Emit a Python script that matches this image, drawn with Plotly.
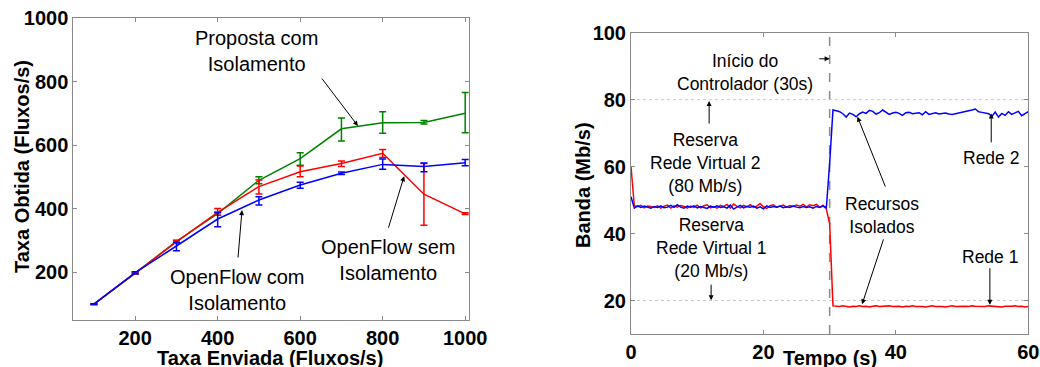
import plotly.graph_objects as go

# ---------------- Left panel data ----------------
taxa_enviada = [100, 200, 300, 400, 500, 600, 700, 800, 900, 1000]

proposta = [100, 197, 298, 385, 490, 558, 652, 671, 672, 701]
proposta_up = [1, 3, 3, 5, 11, 19, 34, 35, 6, 65]
proposta_dn = [1, 3, 3, 5, 11, 21, 38, 33, 5, 61]

of_sem = [100, 198, 296, 389, 470, 517, 543, 575, 446, 384]
of_sem_up = [1, 3, 4, 12, 21, 18, 8, 12, 97, 4]
of_sem_dn = [1, 3, 4, 9, 23, 16, 10, 13, 98, 2]

of_com = [100, 199, 283, 368, 428, 475, 512, 540, 533, 545]
of_com_up = [1, 3, 12, 20, 10, 9, 4, 17, 11, 10]
of_com_dn = [1, 3, 15, 24, 16, 10, 4, 15, 16, 9]

# ---------------- Right panel data ----------------
tempo = [
    0.0, 0.5, 1.0, 1.5, 2.0, 2.5, 3.0, 3.5, 4.0, 4.5,
    5.0, 5.5, 6.0, 6.5, 7.0, 7.5, 8.0, 8.5, 9.0, 9.5,
    10.0, 10.5, 11.0, 11.5, 12.0, 12.5, 13.0, 13.5, 14.0, 14.5,
    15.0, 15.5, 16.0, 16.5, 17.0, 17.5, 18.0, 18.5, 19.0, 19.5,
    20.0, 20.5, 21.0, 21.5, 22.0, 22.5, 23.0, 23.5, 24.0, 24.5,
    25.0, 25.5, 26.0, 26.5, 27.0, 27.5, 28.0, 28.5, 29.0, 29.5,
    30.0, 30.5, 31.0, 31.5, 32.0, 32.5, 33.0, 33.5, 34.0, 34.5,
    35.0, 35.5, 36.0, 36.5, 37.0, 37.5, 38.0, 38.5, 39.0, 39.5,
    40.0, 40.5, 41.0, 41.5, 42.0, 42.5, 43.0, 43.5, 44.0, 44.5,
    45.0, 45.5, 46.0, 46.5, 47.0, 47.5, 48.0, 48.5, 49.0, 49.5,
    50.0, 50.5, 51.0, 51.5, 52.0, 52.5, 53.0, 53.5, 54.0, 54.5,
    55.0, 55.5, 56.0, 56.5, 57.0, 57.5, 58.0, 58.5, 59.0, 59.5,
    60.0,
]

rede2 = [
    51.0, 47.6, 48.3, 47.8, 48.2, 47.9, 47.6, 48.1, 47.8, 48.3,
    47.7, 47.9, 48.4, 47.8, 48.6, 47.9, 47.6, 48.2, 47.9, 48.3,
    47.7, 48.1, 47.8, 47.5, 48.2, 47.9, 48.3, 47.8, 48.0, 47.6,
    48.5, 47.3, 47.9, 48.4, 47.7, 48.1, 47.9, 48.2, 47.6, 48.0,
    47.4, 48.3, 47.8, 48.1, 47.9, 48.2, 47.7, 48.0, 47.8, 48.2,
    47.9, 47.7, 48.1, 47.8, 48.0, 47.6, 48.1, 47.8, 48.2, 47.7,
    61.0, 76.9, 76.7, 76.4, 75.8, 74.8, 76.0, 75.6, 74.9, 75.8,
    76.3, 75.9, 76.8, 76.5, 75.7, 76.1, 76.9, 76.3, 75.6, 76.0,
    76.2, 75.9, 75.3, 76.1, 76.2, 75.8, 76.0, 76.1, 75.5, 76.4,
    75.6, 75.8, 76.1, 75.7, 75.8, 76.0, 75.7, 75.6, 75.8, 76.0,
    76.1, 76.3, 76.5, 76.9, 77.2, 76.4, 76.2, 76.0, 75.8, 75.0,
    76.3, 74.8, 75.9, 75.3, 76.4, 75.6, 76.1, 76.5, 75.2, 75.9,
    76.4,
]

rede1 = [
    60.0, 48.3, 48.0, 48.4, 47.7, 48.2, 48.1, 47.8, 48.3, 47.6,
    48.2, 48.5, 47.6, 48.3, 47.9, 48.4, 48.1, 47.6, 48.2, 47.8,
    48.5, 47.7, 48.3, 48.6, 47.7, 48.0, 47.6, 48.4, 48.1, 48.7,
    47.6, 48.8, 48.1, 47.7, 48.4, 48.0, 48.6, 47.8, 48.2, 49.0,
    48.0, 47.5, 48.3, 48.6, 47.9, 48.3, 48.5, 47.9, 48.4, 48.1,
    48.5, 48.2, 48.7, 48.0, 48.6, 48.3, 48.7, 47.9, 48.5, 47.3,
    43.0, 18.4, 18.3, 18.2, 18.4, 18.3, 18.1, 18.3, 18.2, 18.4,
    18.2, 18.3, 18.1, 18.3, 18.4, 18.2, 18.3, 18.2, 18.4, 18.2,
    18.3, 18.3, 18.1, 18.3, 18.2, 18.4, 18.2, 18.3, 18.2, 18.1,
    18.3, 18.4, 18.2, 18.3, 18.2, 18.1, 18.3, 18.4, 18.2, 18.3,
    18.2, 18.3, 18.2, 18.4, 18.3, 18.2, 18.3, 18.2, 18.4, 18.3,
    18.2, 18.3, 18.1, 18.3, 18.2, 18.3, 18.4, 18.2, 18.3, 18.1,
    18.2,
]

reserva_linhas = [80, 20]
inicio_controlador = 30

# ---------------- Figure ----------------
FONT = "Liberation Sans, Arial, Helvetica, sans-serif"
AXC = "#8a8a8a"
GREEN, RED, BLUE = "#008000", "#ff0000", "#0000ff"

fig = go.Figure()


def add_err(x, y, up, dn, color, xa, ya):
    fig.add_trace(go.Scatter(
        x=x, y=y, mode="lines", xaxis=xa, yaxis=ya,
        line=dict(color=color, width=1.5),
        error_y=dict(type="data", symmetric=False, array=up, arrayminus=dn,
                     color=color, thickness=1.5, width=3.5),
        showlegend=False, hoverinfo="skip"))


add_err(taxa_enviada, proposta, proposta_up, proposta_dn, GREEN, "x", "y")
add_err(taxa_enviada, of_sem, of_sem_up, of_sem_dn, RED, "x", "y")
add_err(taxa_enviada, of_com, of_com_up, of_com_dn, BLUE, "x", "y")

fig.add_trace(go.Scatter(x=tempo, y=rede1, mode="lines", xaxis="x2", yaxis="y2",
                         line=dict(color=RED, width=1.5), showlegend=False))
fig.add_trace(go.Scatter(x=tempo, y=rede2, mode="lines", xaxis="x2", yaxis="y2",
                         line=dict(color=BLUE, width=1.5), showlegend=False))

axis_common = dict(showline=True, linecolor=AXC, linewidth=1, mirror="ticks",
                   ticks="inside", ticklen=4, tickcolor=AXC, showgrid=False,
                   zeroline=False, automargin=False,
                   tickfont=dict(family=FONT, size=20, color="black", weight="bold"))

fig.update_layout(
    width=1040, height=367,
    margin=dict(l=0, r=0, t=0, b=0, autoexpand=False),
    paper_bgcolor="white", plot_bgcolor="white",
    xaxis=dict(domain=[73.3 / 1040, 469.3 / 1040], range=[50, 1010],
               tickvals=[200, 400, 600, 800, 1000], anchor="y", **axis_common),
    yaxis=dict(domain=[1 - 320 / 367, 1 - 18.3 / 367], range=[50, 1000],
               tickvals=[200, 400, 600, 800, 1000], anchor="x", **axis_common),
    xaxis2=dict(domain=[631 / 1040, 1028.3 / 1040], range=[0, 60],
                tickvals=[0, 20, 40, 60], anchor="y2", **axis_common),
    yaxis2=dict(domain=[1 - 334 / 367, 1 - 32.7 / 367], range=[10, 100],
                tickvals=[20, 40, 60, 80, 100], anchor="x2", **axis_common),
)

# reference lines on right panel
for v in reserva_linhas:
    fig.add_shape(type="line", xref="x2", yref="y2", x0=0, x1=60, y0=v, y1=v,
                  line=dict(color="#c8c8c8", width=1, dash="dot"), layer="below")
fig.add_shape(type="line", xref="x2", yref="y2 domain", x0=inicio_controlador,
              x1=inicio_controlador, y0=0, y1=1,
              line=dict(color="#8a8a8a", width=1.5, dash="dash"), layer="below")

# axis titles
tf = dict(family=FONT, size=20, color="black", weight="bold")
fig.add_annotation(text="Taxa Enviada (Fluxos/s)", xref="paper", yref="paper",
                   x=270 / 1040, y=1 - 358 / 367, showarrow=False, font=tf,
                   xanchor="center", yanchor="middle")
fig.add_annotation(text="Taxa Obtida (Fluxos/s)", xref="paper", yref="paper",
                   x=22 / 1040, y=1 - 167 / 367, showarrow=False, font=tf,
                   textangle=-90, xanchor="center", yanchor="middle")
fig.add_annotation(text="Tempo (s)", xref="paper", yref="paper",
                   x=830 / 1040, y=1 - 358 / 367, showarrow=False, font=tf,
                   xanchor="center", yanchor="middle")
fig.add_annotation(text="Banda (Mb/s)", xref="paper", yref="paper",
                   x=583 / 1040, y=1 - 185 / 367, showarrow=False, font=tf,
                   textangle=-90, xanchor="center", yanchor="middle")

# text labels
lf = dict(family=FONT, size=20, color="black")
rf = dict(family=FONT, size=17.5, color="black")


def label(text, x, y, xa, ya, font):
    fig.add_annotation(text=text, x=x, y=y, xref=xa, yref=ya, showarrow=False,
                       font=font, xanchor="center", yanchor="middle", align="center")


def arrow(x0, y0, x1, y1, xa, ya):
    fig.add_annotation(x=x1, y=y1, ax=x0, ay=y0, xref=xa, yref=ya, axref=xa, ayref=ya,
                       text="", showarrow=True, arrowhead=2, arrowsize=1,
                       arrowwidth=1, arrowcolor="black")


label("Proposta com<br>Isolamento", 495, 897, "x", "y", lf)
label("OpenFlow com<br>Isolamento", 449, 144, "x", "y", lf)
label("OpenFlow sem<br>Isolamento", 813, 240, "x", "y", lf)
arrow(650, 815, 740, 661, "x", "y")
arrow(449, 242, 459, 396, "x", "y")
arrow(813, 336, 852, 503, "x", "y")

label("Início do<br>Controlador (30s)", 17.2, 88.1, "x2", "y2", rf)
label("Reserva<br>Rede Virtual 2<br>(80 Mb/s)", 11.3, 61.1, "x2", "y2", rf)
label("Reserva<br>Rede Virtual 1<br>(20 Mb/s)", 12.1, 35.7, "x2", "y2", rf)
label("Recursos<br>Isolados", 37.9, 45.3, "x2", "y2", rf)
label("Rede 2", 54.4, 62.7, "x2", "y2", rf)
label("Rede 1", 54.2, 33.1, "x2", "y2", rf)
arrow(28.2, 92.2, 30.0, 92.2, "x2", "y2")
arrow(11.8, 72.4, 11.8, 79.6, "x2", "y2")
arrow(12.1, 25.2, 12.1, 20.1, "x2", "y2")
arrow(38.5, 53.6, 34.2, 74.9, "x2", "y2")
arrow(38.2, 38.7, 34.9, 18.9, "x2", "y2")
arrow(54.4, 66.8, 54.4, 75.9, "x2", "y2")
arrow(54.2, 30.1, 54.2, 18.7, "x2", "y2")

fig.write_html(
    "out.html",
    config={"displayModeBar": False},
    post_script="document.body.style.margin='0px';document.body.style.overflow='hidden';",
)
